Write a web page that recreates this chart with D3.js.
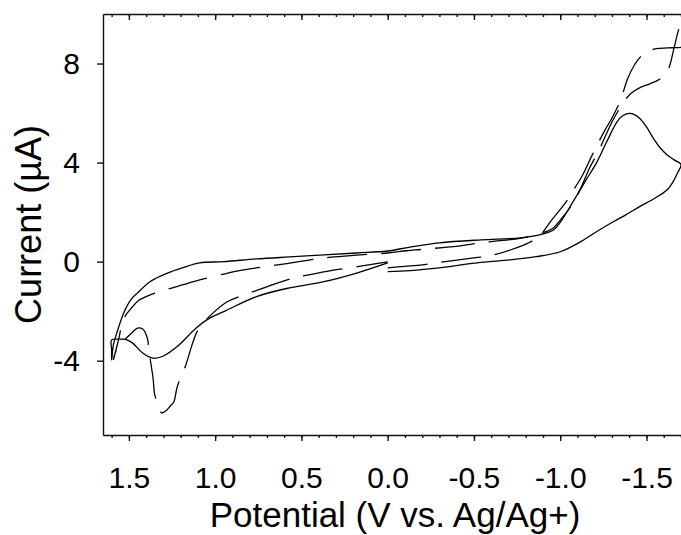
<!DOCTYPE html>
<html>
<head>
<meta charset="utf-8">
<script src="https://cdn.jsdelivr.net/npm/d3@7"></script>
<style>
  html, body { margin: 0; padding: 0; background: #fff; }
  svg { display: block; }
  text { font-family: "Liberation Sans", Arial, sans-serif; fill: #000; }
</style>
</head>
<body>
<svg id="chart" width="681" height="535"></svg>
<script>
// ---- Data (potential in V vs Ag/Ag+, current in µA) ----
// Solid CV: start at 0 V, scan negative, reverse at -1.7 V, scan to +1.6 V, back to 0 V
const solidV = [0.00,-0.13,-0.30,-0.54,-0.71,-0.86,-1.00,-1.12,-1.21,-1.31,-1.38,-1.46,-1.55,-1.62,-1.66,-1.68,-1.70,
  -1.66,-1.62,-1.58,-1.54,-1.50,-1.46,-1.43,-1.40,-1.36,-1.33,-1.27,-1.21,-1.15,-1.07,-1.01,-0.96,-0.88,-0.77,-0.54,-0.30,-0.13,0.00,
  0.18,0.37,0.57,0.76,0.95,1.09,1.19,1.28,1.34,1.38,1.45,1.49,1.53,1.57,1.59,1.60,
  1.60,1.60,1.56,1.52,1.48,1.42,1.36,1.30,1.22,1.11,1.03,0.95,0.76,0.57,0.37,0.18,0.00];
const solidI = [-0.40,-0.36,-0.25,-0.03,0.07,0.20,0.40,0.81,1.21,1.62,1.89,2.22,2.57,2.90,3.30,3.58,3.92,
  4.11,4.31,4.59,4.98,5.44,5.79,5.94,5.99,5.88,5.65,4.85,3.99,3.30,2.37,1.69,1.28,1.08,0.96,0.88,0.76,0.59,0.43,
  0.35,0.27,0.19,0.11,0.00,-0.05,-0.25,-0.47,-0.66,-0.82,-1.26,-1.55,-2.07,-2.88,-3.37,-3.97,
  -3.57,-3.16,-3.13,-3.14,-3.28,-3.69,-3.90,-3.81,-3.43,-2.68,-2.27,-2.02,-1.41,-1.06,-0.81,-0.46,-0.05];

// Dashed CV: same scan sequence (vertex beyond the visible -1.7 V edge)
const dashV = [0.00,-0.10,-0.20,-0.29,-0.39,-0.51,-0.59,-0.71,-0.81,-0.88,-0.95,-1.03,-1.07,-1.13,-1.18,-1.22,-1.26,-1.30,-1.35,-1.39,-1.43,-1.46,-1.50,-1.55,-1.62,-1.70,-1.76,-1.78,
  -1.70,-1.66,-1.63,-1.60,-1.57,-1.52,-1.46,-1.42,-1.39,-1.35,-1.30,-1.26,-1.22,-1.17,-1.12,-1.06,-1.00,-0.96,-0.88,-0.75,-0.65,-0.54,-0.41,-0.32,-0.19,-0.11,0.00,
  0.16,0.33,0.45,0.55,0.64,0.74,0.86,0.95,1.09,1.19,1.27,1.38,1.44,1.48,1.53,1.56,1.59,
  1.58,1.54,1.49,1.45,1.42,1.395,1.38,1.36,1.35,1.33,1.31,1.28,1.26,1.24,1.22,1.17,1.13,1.10,1.03,0.93,0.86,0.75,0.64,0.55,0.45,0.33,0.24,0.11,0.00];
const dashI = [-0.25,-0.19,-0.13,-0.04,0.05,0.16,0.23,0.47,0.74,1.04,1.68,2.37,2.82,3.50,4.23,4.79,5.32,5.80,6.53,7.38,7.94,8.23,8.47,8.59,8.63,8.65,8.70,10.3,
  9.60,8.63,7.82,7.50,7.34,7.18,7.02,6.85,6.65,6.25,5.64,5.04,4.43,3.78,2.98,2.21,1.68,1.36,1.12,0.92,0.85,0.76,0.63,0.57,0.49,0.44,0.35,
  0.27,0.18,0.07,-0.04,-0.13,-0.23,-0.36,-0.50,-0.74,-0.94,-1.10,-1.35,-1.55,-1.83,-2.31,-3.16,-3.97,
  -3.70,-3.28,-2.92,-2.68,-2.72,-3.04,-3.77,-4.70,-5.38,-5.79,-6.11,-5.99,-5.83,-5.67,-5.06,-4.17,-3.28,-2.76,-2.19,-1.62,-1.41,-1.14,-0.87,-0.67,-0.52,-0.36,-0.27,-0.13,-0.01];

// Tick values / labels
const xMajorTicks = [1.5, 1.0, 0.5, 0.0, -0.5, -1.0, -1.5];
const xMinorTicks = d3.range(16, -18, -1).map(d => d / 10);
const yTicks = [-4, 0, 4, 8];
const xTitle = "Potential (V vs. Ag/Ag+)";
const yTitle = "Current (\u00B5A)";

// ---- Layout ----
const svg = d3.select("#chart");
const L = 103, R = 681, T = 14, B = 435;

const x = d3.scaleLinear().domain([1.65, -1.7]).range([L, R]);
const y = d3.scaleLinear().domain([-7, 10]).range([B, T]);

svg.append("defs").append("clipPath").attr("id", "plotclip")
  .append("rect").attr("x", L).attr("y", T).attr("width", R - L).attr("height", B - T);

const fmtX = d => d.toFixed(1);

// Bottom axis: minor ticks
svg.append("g").attr("transform", `translate(0,${B})`)
  .call(d3.axisBottom(x).tickValues(xMinorTicks).tickSize(3).tickSizeOuter(0).tickFormat(""))
  .call(g => g.select(".domain").remove());
// Bottom axis: major ticks + labels
const gx = svg.append("g").attr("transform", `translate(0,${B})`)
  .call(d3.axisBottom(x).tickValues(xMajorTicks).tickSize(6).tickSizeOuter(0).tickPadding(26).tickFormat(fmtX));
gx.selectAll("text").attr("font-size", 30).attr("font-family", "Liberation Sans, Arial, sans-serif");

// Top axis: inward ticks
svg.append("g").attr("transform", `translate(0,${T})`)
  .call(d3.axisTop(x).tickValues(xMinorTicks).tickSize(-3).tickSizeOuter(0).tickFormat(""))
  .call(g => g.select(".domain").remove());
svg.append("g").attr("transform", `translate(0,${T})`)
  .call(d3.axisTop(x).tickValues(xMajorTicks).tickSize(-6).tickSizeOuter(0).tickFormat(""));

// Left axis
const gy = svg.append("g").attr("transform", `translate(${L},0)`)
  .call(d3.axisLeft(y).tickValues(yTicks).tickSize(6).tickSizeOuter(0).tickPadding(17).tickFormat(d => String(d)));
gy.selectAll("text").attr("font-size", 30).attr("font-family", "Liberation Sans, Arial, sans-serif");

svg.selectAll(".domain, .tick line").attr("stroke", "#111").attr("stroke-width", 1.4);

// ---- Curves ----
const line = d3.line()
  .x(d => x(d[0]))
  .y(d => y(d[1]))
  .curve(d3.curveCatmullRom.alpha(0.5));

const solidData = solidV.map((v, i) => [v, solidI[i]]);
const dashData = dashV.map((v, i) => [v, dashI[i]]);

const plot = svg.append("g").attr("clip-path", "url(#plotclip)");
plot.append("path").datum(solidData)
  .attr("d", line).attr("fill", "none").attr("stroke", "#000").attr("stroke-width", 1.3);
plot.append("path").datum(dashData)
  .attr("d", line).attr("fill", "none").attr("stroke", "#000").attr("stroke-width", 1.3)
  .attr("stroke-dasharray", "40,14");

// ---- Titles ----
svg.append("text").attr("x", 395).attr("y", 527).attr("text-anchor", "middle")
  .attr("font-size", 35).text(xTitle);
svg.append("text").attr("transform", "translate(41,224.5) rotate(-90)")
  .attr("text-anchor", "middle").attr("font-size", 36).text(yTitle);
</script>
</body>
</html>
